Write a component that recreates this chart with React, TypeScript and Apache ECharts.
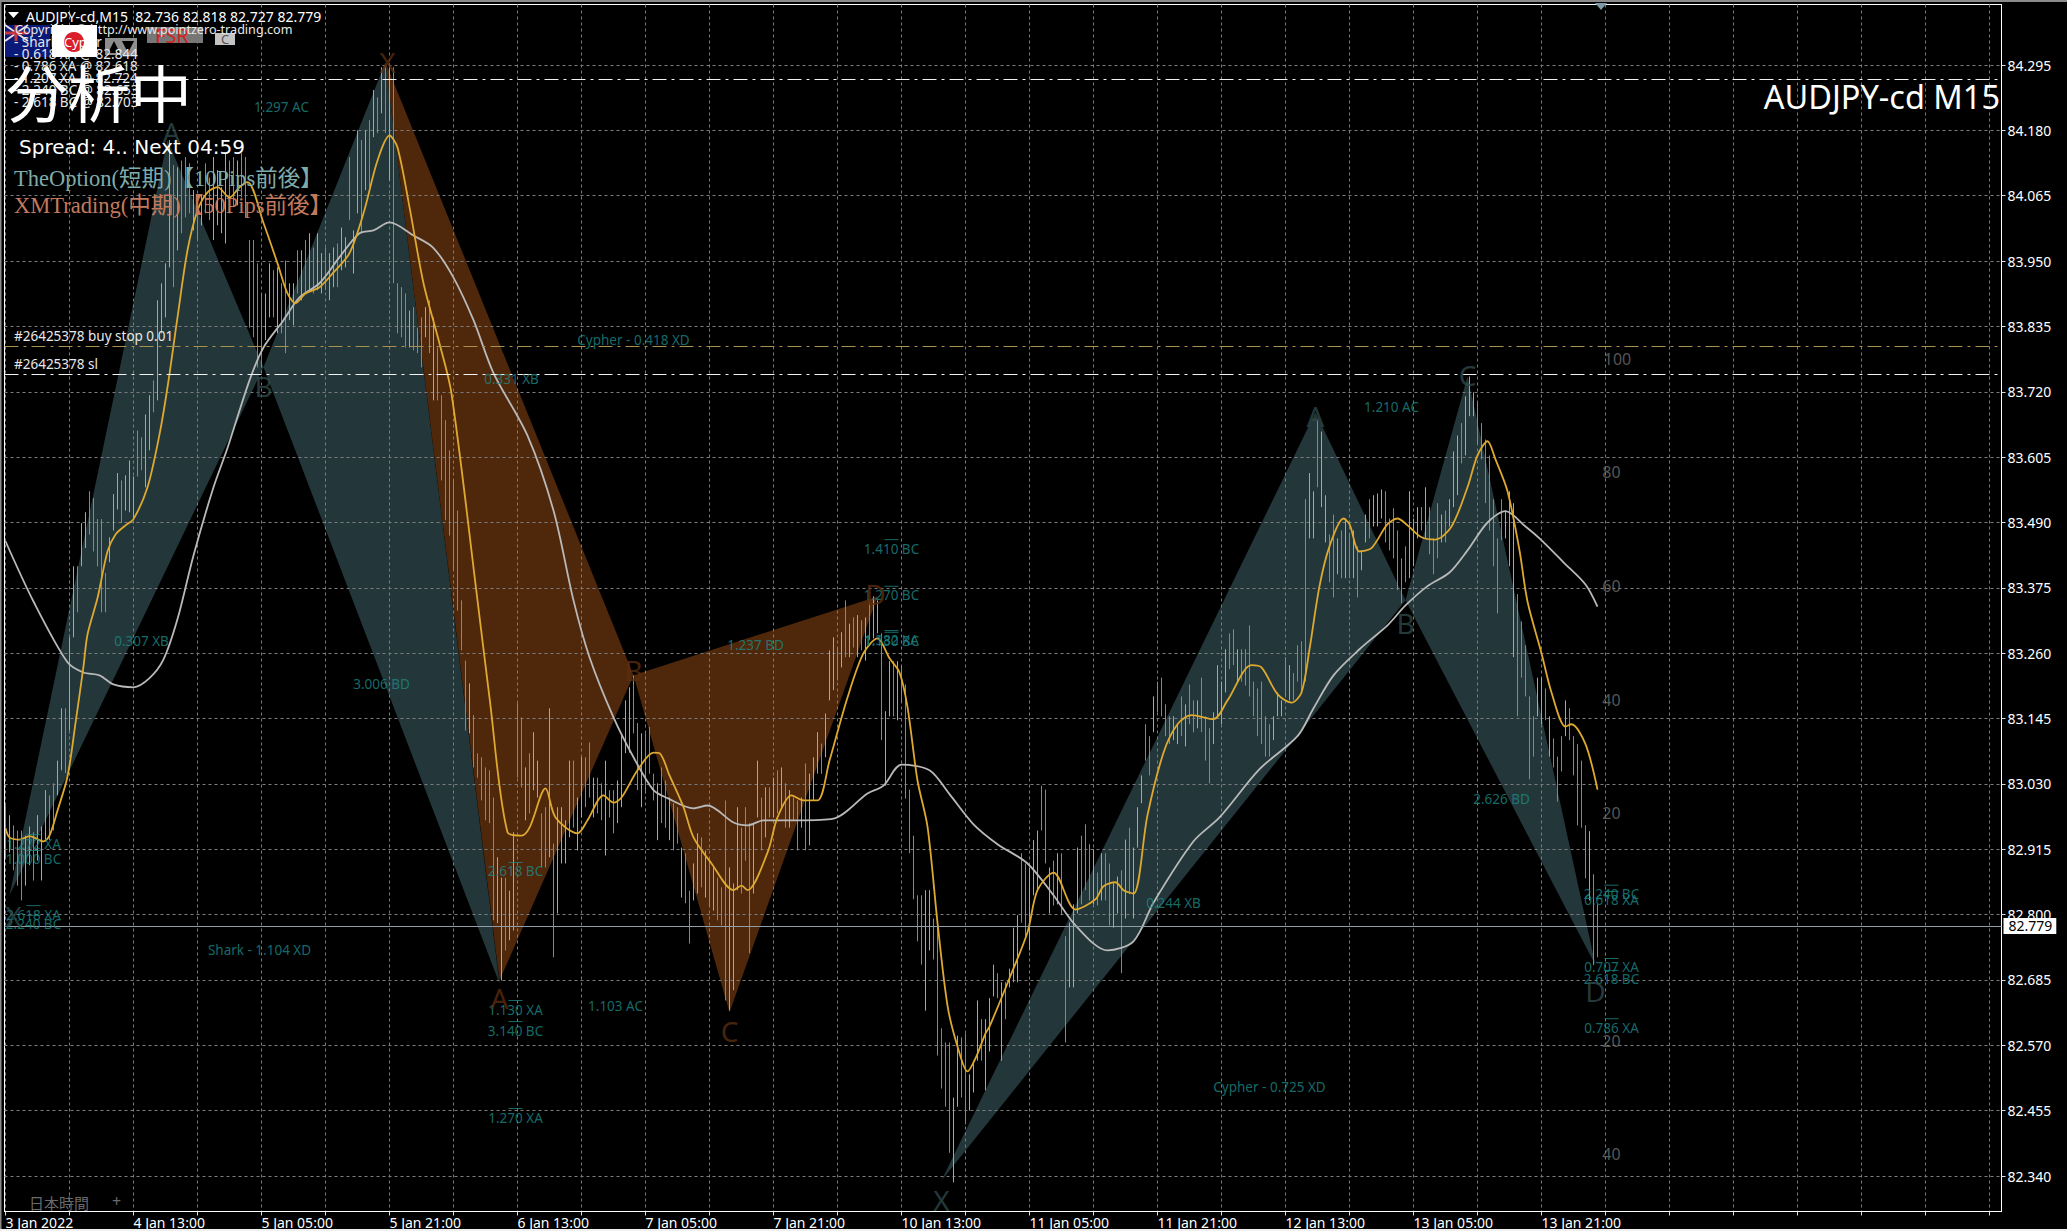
import React, { useEffect, useRef } from "react";
import * as echarts from "echarts";

const stickHigh = [
  82.992,82.975,82.957,82.948,82.948,82.939,82.955,82.945,82.975,82.955,83.019,83.010,83.031,83.071,83.163,83.163,
  83.288,83.413,83.413,83.489,83.508,83.545,83.533,83.496,83.496,83.401,83.464,83.540,83.577,83.564,83.573,83.599,
  83.571,83.652,83.640,83.680,83.714,83.740,83.881,83.911,83.946,84.163,84.119,84.115,84.127,84.133,84.122,84.075,
  84.057,84.066,84.122,84.097,84.133,84.110,84.080,84.140,84.127,84.133,84.127,84.140,84.133,83.987,83.987,83.946,
  83.893,83.893,83.946,83.934,83.939,83.911,83.951,83.911,83.911,83.969,83.969,83.987,83.999,83.974,83.999,83.964,
  83.974,83.964,83.974,83.981,84.009,83.992,84.133,84.004,84.180,84.163,84.180,84.198,84.251,84.238,84.291,84.291,
  84.298,84.291,83.911,83.904,83.893,83.863,83.869,83.833,83.851,83.869,83.881,83.851,83.798,83.714,83.670,83.617,
  83.564,83.511,83.353,83.247,83.207,83.151,83.084,83.077,83.059,83.054,83.006,82.901,82.865,82.865,82.842,82.945,
  83.172,83.147,83.059,83.084,83.121,83.071,82.978,82.989,83.163,82.925,82.989,82.989,82.966,83.071,83.071,83.006,
  83.077,83.077,83.103,83.041,83.041,83.031,83.071,83.019,83.019,83.036,83.119,83.177,83.200,83.221,83.137,83.119,
  83.119,83.130,83.048,83.031,83.059,83.036,83.006,82.996,82.989,82.918,82.908,82.842,82.890,82.943,82.936,82.913,
  82.895,82.883,82.865,82.848,83.001,82.883,82.855,82.989,82.953,82.989,82.961,82.961,83.071,83.006,83.024,83.024,
  83.041,83.054,83.059,83.031,83.019,83.006,83.001,83.006,83.066,83.048,83.077,83.121,83.101,83.154,83.265,83.288,
  83.270,83.297,83.353,83.312,83.323,83.327,83.318,83.323,83.348,83.360,83.353,83.295,83.158,83.246,83.246,83.246,
  83.239,83.205,83.020,82.939,82.834,82.834,82.843,82.843,82.793,82.786,82.600,82.575,82.575,82.478,82.587,82.584,
  82.591,82.519,82.543,82.649,82.616,82.616,82.653,82.712,82.697,82.681,82.681,82.705,82.777,82.799,82.908,82.890,
  82.883,82.931,82.948,83.027,83.020,82.883,82.895,82.908,82.908,82.762,82.786,82.818,82.918,82.939,82.959,82.924,
  82.915,82.874,82.908,82.908,82.890,82.855,82.867,82.878,82.932,82.953,82.918,82.989,83.045,83.135,83.114,83.184,
  83.210,83.217,83.170,83.149,83.149,83.135,83.184,83.170,83.205,83.177,83.177,83.217,83.149,83.128,83.156,83.239,
  83.210,83.267,83.295,83.302,83.267,83.267,83.267,83.309,83.210,83.198,83.210,83.149,83.135,83.149,83.191,83.177,
  83.253,83.239,83.225,83.274,83.281,83.531,83.577,83.545,83.670,83.650,83.538,83.469,83.504,83.462,83.476,83.497,
  83.469,83.476,83.448,83.441,83.504,83.531,83.538,83.541,83.548,83.545,83.497,83.515,83.476,83.427,83.448,83.545,
  83.497,83.517,83.517,83.552,83.517,83.462,83.524,83.504,83.511,83.531,83.615,83.643,83.665,83.712,83.747,83.719,
  83.701,83.665,83.636,83.608,83.531,83.462,83.531,83.511,83.545,83.524,83.364,83.316,83.274,83.184,83.149,83.217,
  83.217,83.198,83.149,83.110,83.078,83.114,83.177,83.163,83.114,83.100,83.071,82.957,82.947,82.871,82.818,
];

const stickLow = [
  82.899,82.909,82.878,82.851,82.825,82.851,82.887,82.860,82.895,82.860,82.931,82.931,82.948,83.010,83.054,83.049,
  83.124,83.288,83.332,83.413,83.445,83.469,83.439,83.413,83.332,83.332,83.420,83.476,83.513,83.489,83.511,83.508,
  83.496,83.571,83.582,83.552,83.617,83.684,83.705,83.823,83.851,83.939,83.904,83.969,83.999,84.027,84.034,84.004,
  83.987,84.013,84.034,84.022,83.987,84.013,83.999,83.981,84.034,84.045,84.048,84.062,84.027,83.833,83.816,83.763,
  83.763,83.811,83.851,83.851,83.823,83.823,83.788,83.846,83.837,83.893,83.881,83.893,83.899,83.893,83.899,83.893,
  83.899,83.881,83.904,83.904,83.934,83.939,84.022,83.928,84.034,83.999,84.075,84.080,84.168,84.175,84.210,84.175,
  84.092,83.911,83.823,83.816,83.798,83.798,83.793,83.788,83.763,83.816,83.788,83.705,83.705,83.564,83.494,83.467,
  83.406,83.335,83.265,83.124,83.119,83.059,83.041,83.001,82.966,82.961,82.790,82.785,82.684,82.737,82.755,82.772,
  83.041,83.024,82.966,82.978,83.019,83.006,82.883,82.883,82.901,82.725,82.802,82.890,82.890,82.936,82.953,82.913,
  82.971,82.989,83.006,82.971,82.978,82.966,82.904,82.971,82.943,82.961,82.989,83.084,83.085,83.119,83.019,82.989,
  83.013,83.048,83.001,82.931,82.961,82.953,82.931,82.913,82.925,82.830,82.820,82.749,82.825,82.837,82.848,82.830,
  82.813,82.807,82.790,82.781,82.649,82.631,82.667,82.843,82.837,82.895,82.732,82.837,82.971,82.913,82.936,82.971,
  82.971,82.978,82.989,82.953,82.953,82.966,82.913,82.953,82.913,82.922,83.001,83.048,83.048,83.077,83.177,83.195,
  83.212,83.235,83.253,83.253,83.270,83.253,83.265,83.247,83.283,83.286,83.295,83.107,83.027,83.149,83.149,83.142,
  83.173,83.004,82.908,82.827,82.753,82.712,82.631,82.737,82.721,82.552,82.494,82.462,82.381,82.329,82.462,82.478,
  82.431,82.455,82.487,82.543,82.543,82.491,82.559,82.656,82.653,82.543,82.616,82.672,82.681,82.681,82.786,82.762,
  82.737,82.834,82.843,82.948,82.890,82.802,82.816,82.818,82.799,82.575,82.672,82.672,82.802,82.818,82.843,82.825,
  82.818,82.816,82.825,82.825,82.781,82.777,82.802,82.697,82.793,82.836,82.793,82.918,82.996,83.071,83.045,83.121,
  83.156,83.149,83.114,83.100,83.107,83.100,83.114,83.096,83.135,83.121,83.128,83.121,83.071,83.031,83.100,83.149,
  83.135,83.191,83.232,83.239,83.210,83.210,83.203,83.184,83.149,83.114,83.100,83.078,83.078,83.107,83.149,83.149,
  83.184,83.177,83.177,83.210,83.191,83.210,83.462,83.462,83.552,83.517,83.455,83.385,83.358,83.399,83.392,83.392,
  83.392,83.392,83.358,83.406,83.455,83.462,83.483,83.483,83.497,83.455,83.441,83.427,83.371,83.348,83.385,83.392,
  83.413,83.462,83.476,83.462,83.434,83.399,83.427,83.455,83.455,83.483,83.517,83.538,83.594,83.608,83.677,83.677,
  83.629,83.601,83.524,83.476,83.413,83.330,83.459,83.462,83.413,83.253,83.149,83.217,83.184,83.038,83.078,83.149,
  83.135,83.142,83.078,83.059,82.999,83.052,83.114,83.107,83.045,82.957,82.953,82.864,82.825,82.711,82.725,
];

const stickDirection = [
  "duddduuduuudduud","uuduuddddduuuduu","udduuduuuududddu","dudduuuudduddddd","duududduudududuu",
  "duuduuduudududud","uddddudddududddd","ddddudddddduuduu","dduduudduduuuudu","uddudduddu" + "uuuddu",
  "dddudduddudduudu","duddduuuddduudud","udududduduuuduuu","dududududuuduudu","dddddduuddddduud",
  "duuuduuududuuudd","uuuddududduuuddd","ududduududuuuddu","dddduududduddduu","uuddudddddddduuu" + "d",
  "udddduuduuddudud","uduuduuuddddddu" + "u","ududdduduuuduuud","dddddduuuddddduu","dudddudddddud" + "du",
].join("");

const stickStep = 2;

const tealTriangles = [
  [2, 82.834, 81, 84.163, 129, 83.763],
  [129, 83.763, 190, 84.300, 247, 82.679],
  [468, 82.332, 655, 83.684, 700, 83.353],
  [700, 83.353, 731, 83.747, 795, 82.711],
];
const brownTriangles = [
  [190, 84.300, 247, 82.684, 314, 83.221],
  [314, 83.221, 362, 82.628, 436, 83.360],
];

const fastMa = [
  [0,82.952],[2,82.936],[7,82.932],[12,82.938],[19,82.929],[22,82.939],[26,82.983],[31,83.043],[35,83.137],[39,83.237],
  [41,83.293],[46,83.357],[51,83.439],[55,83.469],[60,83.485],[64,83.496],[71,83.552],[77,83.645],[81,83.728],[86,83.851],
  [91,83.969],[96,84.039],[101,84.071],[106,84.080],[112,84.062],[117,84.080],[121,84.089],[129,84.017],[136,83.946],[141,83.893],
  [145,83.876],[150,83.893],[157,83.904],[164,83.930],[172,83.964],[179,84.034],[186,84.127],[192,84.171],[196,84.150],[202,84.045],
  [209,83.911],[217,83.805],[223,83.717],[236,83.353],[242,83.182],[251,82.945],[258,82.939],[262,82.953],[270,83.022],[275,82.971],
  [286,82.943],[291,82.966],[299,83.010],[304,82.997],[308,83.006],[316,83.054],[324,83.085],[327,83.084],[332,83.045],[339,82.989],
  [344,82.936],[353,82.890],[364,82.843],[368,82.851],[371,82.843],[381,82.909],[386,82.971],[393,83.010],[399,83.001],[406,83.001],
  [412,83.071],[421,83.182],[429,83.260],[436,83.286],[442,83.251],[447,83.226],[451,83.165],[456,83.036],[461,82.955],[466,82.786],
  [471,82.640],[476,82.568],[481,82.524],[485,82.547],[490,82.591],[492,82.603],[502,82.688],[511,82.769],[516,82.843],[524,82.874],
  [535,82.809],[545,82.827],[549,82.850],[555,82.857],[559,82.843],[564,82.837],[571,82.975],[579,83.085],[586,83.135],[593,83.151],
  [604,83.144],[611,83.177],[623,83.239],[628,83.235],[636,83.188],[643,83.173],[648,83.191],[652,83.267],[657,83.378],[662,83.448],
  [669,83.497],[672,83.487],[677,83.439],[683,83.445],[691,83.487],[696,83.497],[701,83.485],[708,83.464],[715,83.460],[723,83.483],
  [731,83.552],[736,83.608],[741,83.633],[745,83.601],[751,83.545],[757,83.441],[761,83.351],[768,83.260],[773,83.191],[780,83.131],
  [783,83.135],[790,83.100],[796,83.020],
];

const slowMa = [
  [0,83.457],[14,83.351],[31,83.244],[39,83.226],[47,83.221],[54,83.205],[64,83.200],[72,83.216],[79,83.249],[86,83.320],
  [94,83.432],[104,83.552],[111,83.621],[122,83.740],[129,83.798],[139,83.846],[147,83.886],[157,83.911],[167,83.957],[177,83.999],
  [184,84.004],[192,84.018],[204,83.995],[214,83.973],[224,83.921],[234,83.846],[244,83.753],[261,83.643],[274,83.511],[284,83.353],
  [292,83.253],[304,83.147],[314,83.077],[324,83.019],[331,83.005],[344,82.987],[351,82.992],[364,82.962],[371,82.957],[379,82.966],
  [397,82.966],[414,82.969],[431,83.013],[439,83.027],[448,83.064],[462,83.054],[472,83.012],[484,82.959],[496,82.924],[511,82.890],
  [524,82.834],[535,82.781],[551,82.737],[564,82.753],[574,82.821],[594,82.929],[607,82.971],[627,83.056],[646,83.114],[654,83.163],
  [664,83.221],[677,83.267],[691,83.309],[700,83.344],[711,83.378],[722,83.402],[731,83.441],[741,83.490],[750,83.510],[760,83.483],
  [767,83.462],[779,83.420],[790,83.381],[796,83.342],
];

const levelTexts: [number, number, string][] = [
  [138,84.221,"1.297 AC"],[68,83.281,"0.307 XB"],[188,83.205,"3.006 BD"],[253,83.742,"0.331 XB"],
  [314,83.811,"Cypher - 0.418 XD"],[375,83.274,"1.237 BD"],[255,82.876,"2.618 BC"],[255,82.633,"1.130 XA"],
  [255,82.596,"3.140 BC"],[305,82.640,"1.103 AC"],[255,82.443,"1.270 XA"],[127,82.737,"Shark - 1.104 XD"],
  [443,83.444,"1.410 BC"],[443,83.362,"1.270 BC"],[443,83.284,"1.382 XA"],[443,83.281,"1.130 BC"],
  [584,82.821,"0.244 XB"],[632,82.496,"Cypher - 0.725 XD"],[693,83.694,"1.210 AC"],[748,83.003,"2.626 BD"],
  [803,82.836,"2.240 BC"],[803,82.825,"0.618 XA"],[803,82.707,"0.707 XA"],[803,82.686,"2.618 BC"],[803,82.601,"0.786 XA"],
  [14,82.925,"1.272 XA"],[14,82.897,"1.000 BC"],[14,82.800,"2.618 XA"],[14,82.783,"2.240 BC"],
];
const tealLetters: [number, number, string][] = [
  [4,82.797,"X"],[83,84.177,"A"],[129,83.731,"B"],[468,82.297,"X"],[655,83.677,"A"],[700,83.313,"B"],[731,83.749,"C"],[795,82.665,"D"],
];
const brownLetters: [number, number, string][] = [
  [191,84.300,"X"],[247,82.654,"A"],[314,83.230,"B"],[362,82.596,"C"],[435,83.364,"D"],
];
const oscillatorLevels: [number, number, string][] = [
  [806,83.777,"100"],[803,83.578,"80"],[803,83.378,"60"],[803,83.177,"40"],[803,82.978,"20"],[803,82.577,"20"],[803,82.378,"40"],
];

const priceTicks = [82.34,82.455,82.57,82.685,82.8,82.915,83.03,83.145,83.26,83.375,83.49,83.605,83.72,83.835,83.95,84.065,84.18,84.295];
const timeLabelBars = [0,64,128,192,256,320,384,448,512,576,640,704,768];
const timeLabels = ["3 Jan 2022","4 Jan 13:00","5 Jan 05:00","5 Jan 21:00","6 Jan 13:00","7 Jan 05:00","7 Jan 21:00","10 Jan 13:00","11 Jan 05:00","11 Jan 21:00","12 Jan 13:00","13 Jan 05:00","13 Jan 21:00"];
const gridBars = [0,32,64,96,128,160,192,224,256,288,320,352,384,416,448,480,512,544,576,608,640,672,704,736,768,800,832,864,896,928,960,992];
const currentPrice = 82.779;
const orderLine = 83.804;
const stopLine = 83.754;
const takeLine = 84.266;
const headerLines = ["- Shark Finder","- 0.618 XA @ 82.844","- 0.786 XA @ 82.618","- 1.207 XA @ 82.724","- 2.240 BC @ 82.653","- 2.618 BC @ 82.703"];

const SANS = '"Noto Sans", sans-serif';
const CJK = '"Noto Sans CJK JP", "Noto Sans", sans-serif';
const SERIF = '"Liberation Serif", "Noto Sans CJK JP", serif';

const txt = (text: string, x: number, y: number, font: string, fill: string, extra: any = {}, z = 30) => ({
  type: "text", x, y, z, silent: true,
  style: { text, font, fill, textVerticalAlign: "middle", textAlign: "left", ...extra },
});
const box = (x: number, y: number, width: number, height: number, fill: string, z = 29) => ({
  type: "rect", z, silent: true, shape: { x, y, width, height }, style: { fill },
});
const poly = (points: number[][], fill: string, z = 30) => ({
  type: "polygon", z, silent: true, shape: { points }, style: { fill },
});
const seg = (x1: number, y1: number, x2: number, y2: number, stroke: string, lineWidth = 1) => ({
  type: "line", z: 29, silent: true, shape: { x1, y1, x2, y2 }, style: { stroke, lineWidth },
});

const overlay = [
  box(0, 0, 2067, 2, "#8a8a8a"),
  box(0, 0, 1.5, 1231, "#8a8a8a"),
  box(0, 1229, 2067, 2, "#f0f0f0"),
  box(5, 25, 45, 32, "#0b1a78"),
  seg(5, 25, 28, 41, "#e8e0e0", 2),
  seg(28, 25, 5, 41, "#e8e0e0", 2),
  seg(16, 25, 16, 41, "#c8343c", 3),
  seg(5, 33, 28, 33, "#c8343c", 3),
  box(105, 38, 32, 17, "#8d8d8d"),
  poly([[108, 53], [114, 41], [120, 53]], "#000"),
  poly([[122, 41], [134, 41], [128, 53]], "#000"),
  box(147, 27, 56, 16, "#777777"),
  box(215, 33, 20, 12, "#c4c4c4"),
  txt("FSR", 155, 35, `20px ${SANS}`, "#d81e1e"),
  txt("C", 221, 39, `13px ${SANS}`, "#555"),
  poly([[8, 12], [19, 12], [13.5, 18]], "#ffffff"),
  poly([[1595, 3], [1607, 3], [1601, 10]], "#7d9aa8"),
  txt("AUDJPY-cd,M15  82.736 82.818 82.727 82.779", 26, 16, `14px ${SANS}`, "#ffffff"),
  txt("Copyright © http://www.pointzero-trading.com", 15, 29, `12.6px ${SANS}`, "#e8e8e8"),
  ...headerLines.map((t, i) => txt(t, 14, 42 + i * 12, `13.5px ${SANS}`, "#e8e8e8")),
  box(52, 25, 45, 32, "#ffffff", 31),
  { type: "circle", z: 32, silent: true, shape: { cx: 74, cy: 42, r: 10 }, style: { fill: "#d9202a" } },
  txt("Cyp", 64, 42, `13px ${SANS}`, "#ffffff", {}, 33),
  txt("分析中", 6, 91, `62px ${CJK}`, "#ffffff", {}, 34),
  txt("Spread: 4.. Next 04:59", 19, 147, `20px "DejaVu Sans", sans-serif`, "#ffffff"),
  txt("TheOption(短期)【10Pips前後】", 14, 178, `22.5px ${SERIF}`, "#7fabab"),
  txt("XMTrading(中期)【50Pips前後】", 14, 205, `22.5px ${SERIF}`, "#c27a5e"),
  txt("#26425378 buy stop 0.01", 14, 336, `13.5px ${SANS}`, "#e8e8e8"),
  txt("#26425378 sl", 14, 364, `13.5px ${SANS}`, "#e8e8e8"),
  txt("AUDJPY-cd M15", 2000, 96, `32.5px ${SANS}`, "#ffffff", { textAlign: "right" }),
  txt("日本時間", 29, 1202, `15px ${CJK}`, "#6a6a6a"),
  txt("+", 112, 1201, `16px ${SANS}`, "#6a6a6a"),
];

const triangleSeries = (rows: number[][], fill: string) => ({
  type: "custom", z: 0, silent: true, clip: true, data: rows,
  encode: { x: [0, 2, 4], y: [1, 3, 5] },
  renderItem: (_p: any, api: any) => ({
    type: "polygon",
    shape: { points: [api.coord([api.value(0), api.value(1)]), api.coord([api.value(2), api.value(3)]), api.coord([api.value(4), api.value(5)])] },
    style: { fill },
  }),
});

const textSeries = (rows: [number, number, string][], font: number, color: string, family = SANS) => ({
  type: "scatter", z: 6, silent: true, symbolSize: 1, itemStyle: { color: "transparent" }, data: rows,
  label: {
    show: true, position: "inside", color, fontSize: font, fontFamily: family,
    formatter: (p: any) => p.data[2],
  },
});

const App = () => {
  const ref = useRef<HTMLDivElement>(null);
  useEffect(() => {
    document.body.style.margin = "0";
    document.body.style.background = "#000";
    const chart = echarts.init(ref.current!, undefined, { renderer: "svg" });
    const sticks = stickHigh.map((h, i) => [i * stickStep, stickLow[i], h, stickDirection[i] === "u" ? 1 : 0]);
    chart.setOption({
      animation: false,
      backgroundColor: "#000",
      grid: { left: 4.5, right: 65.5, top: 4.5, bottom: 19.5, show: true, backgroundColor: "transparent", borderColor: "#fff", borderWidth: 1 },
      xAxis: {
        type: "value", min: -0.5, max: 998, z: 1,
        axisLine: { show: true, onZero: false, lineStyle: { color: "#fff" } },
        axisTick: { show: true, length: 4, customValues: gridBars, lineStyle: { color: "#ddd" } },
        axisLabel: {
          show: true, customValues: timeLabelBars, color: "#fff", fontSize: 14, fontFamily: SANS, align: "left", margin: 4,
          formatter: (v: number) => timeLabels[timeLabelBars.indexOf(v)] ?? "",
        },
        splitLine: { show: true, lineStyle: { color: "#7c7c7c", type: [3, 3], width: 1 } },
      },
      yAxis: {
        type: "value", position: "right", min: 82.2776, max: 84.4015, scale: true, z: 1,
        axisLine: { show: true, onZero: false, lineStyle: { color: "#fff" } },
        axisTick: { show: true, length: 4, customValues: priceTicks, lineStyle: { color: "#ddd" } },
        axisLabel: {
          show: true, customValues: priceTicks, color: "#fff", fontSize: 14, fontFamily: SANS, margin: 6,
          formatter: (v: number) => v.toFixed(3),
        },
        splitLine: { show: true, lineStyle: { color: "#7c7c7c", type: [3, 3], width: 1 } },
      },
      graphic: { elements: overlay },
      series: [
        triangleSeries(tealTriangles, "#23373a"),
        triangleSeries(brownTriangles, "#4f280c"),
        {
          type: "custom", z: 2, silent: true, data: sticks,
          encode: { x: 0, y: [1, 2] },
          renderItem: (_p: any, api: any) => {
            const a = api.coord([api.value(0), api.value(1)]);
            const b = api.coord([api.value(0), api.value(2)]);
            return {
              type: "line",
              shape: { x1: a[0], y1: a[1], x2: b[0], y2: b[1] },
              style: { stroke: api.value(3) ? "#86b3b3" : "#c76d66", lineWidth: 1 },
            };
          },
        },
        {
          type: "line", z: 3, silent: true, data: slowMa, showSymbol: false, smooth: 0.3,
          lineStyle: { color: "#b9b9b9", width: 1.8 },
        },
        {
          type: "line", z: 4, silent: true, data: fastMa, showSymbol: false, smooth: 0.3,
          lineStyle: { color: "#dda92f", width: 1.8 },
          markLine: {
            silent: true, symbol: "none", animation: false, z: 5,
            data: [
              { yAxis: currentPrice, lineStyle: { color: "#8f9ea6", type: "solid", width: 1 },
                label: { show: true, position: "end", distance: 2, formatter: currentPrice.toFixed(3), color: "#000", backgroundColor: "#fff", fontSize: 14, fontFamily: SANS, padding: [0, 4, 0, 5], lineHeight: 16 } },
              { yAxis: orderLine, lineStyle: { color: "#a8904e", type: [14, 5, 3, 5], width: 1 }, label: { show: false } },
              { yAxis: stopLine, lineStyle: { color: "#f2f2f2", type: [14, 5, 3, 5], width: 1 }, label: { show: false } },
              { yAxis: takeLine, lineStyle: { color: "#f2f2f2", type: [14, 5, 3, 5], width: 1 }, label: { show: false } },
            ],
          },
        },
        textSeries(levelTexts, 13.5, "#1c8785"),
        textSeries(tealLetters, 28, "#2f494b"),
        textSeries(brownLetters, 28, "#5c2e0e"),
        textSeries(oscillatorLevels, 16, "#6e6e6e"),
        {
          type: "scatter", z: 6, silent: true, symbol: "rect", symbolSize: [14, 1], symbolOffset: [0, -9],
          itemStyle: { color: "#1c8785" },
          data: levelTexts.filter((r) => /(XA|BC)$/.test(r[2])).map((r) => [r[0], r[1]]),
        },
      ],
    });
    return () => chart.dispose();
  }, []);
  return <div ref={ref} style={{ width: 2067, height: 1231, background: "#000" }} />;
};

export default App;
